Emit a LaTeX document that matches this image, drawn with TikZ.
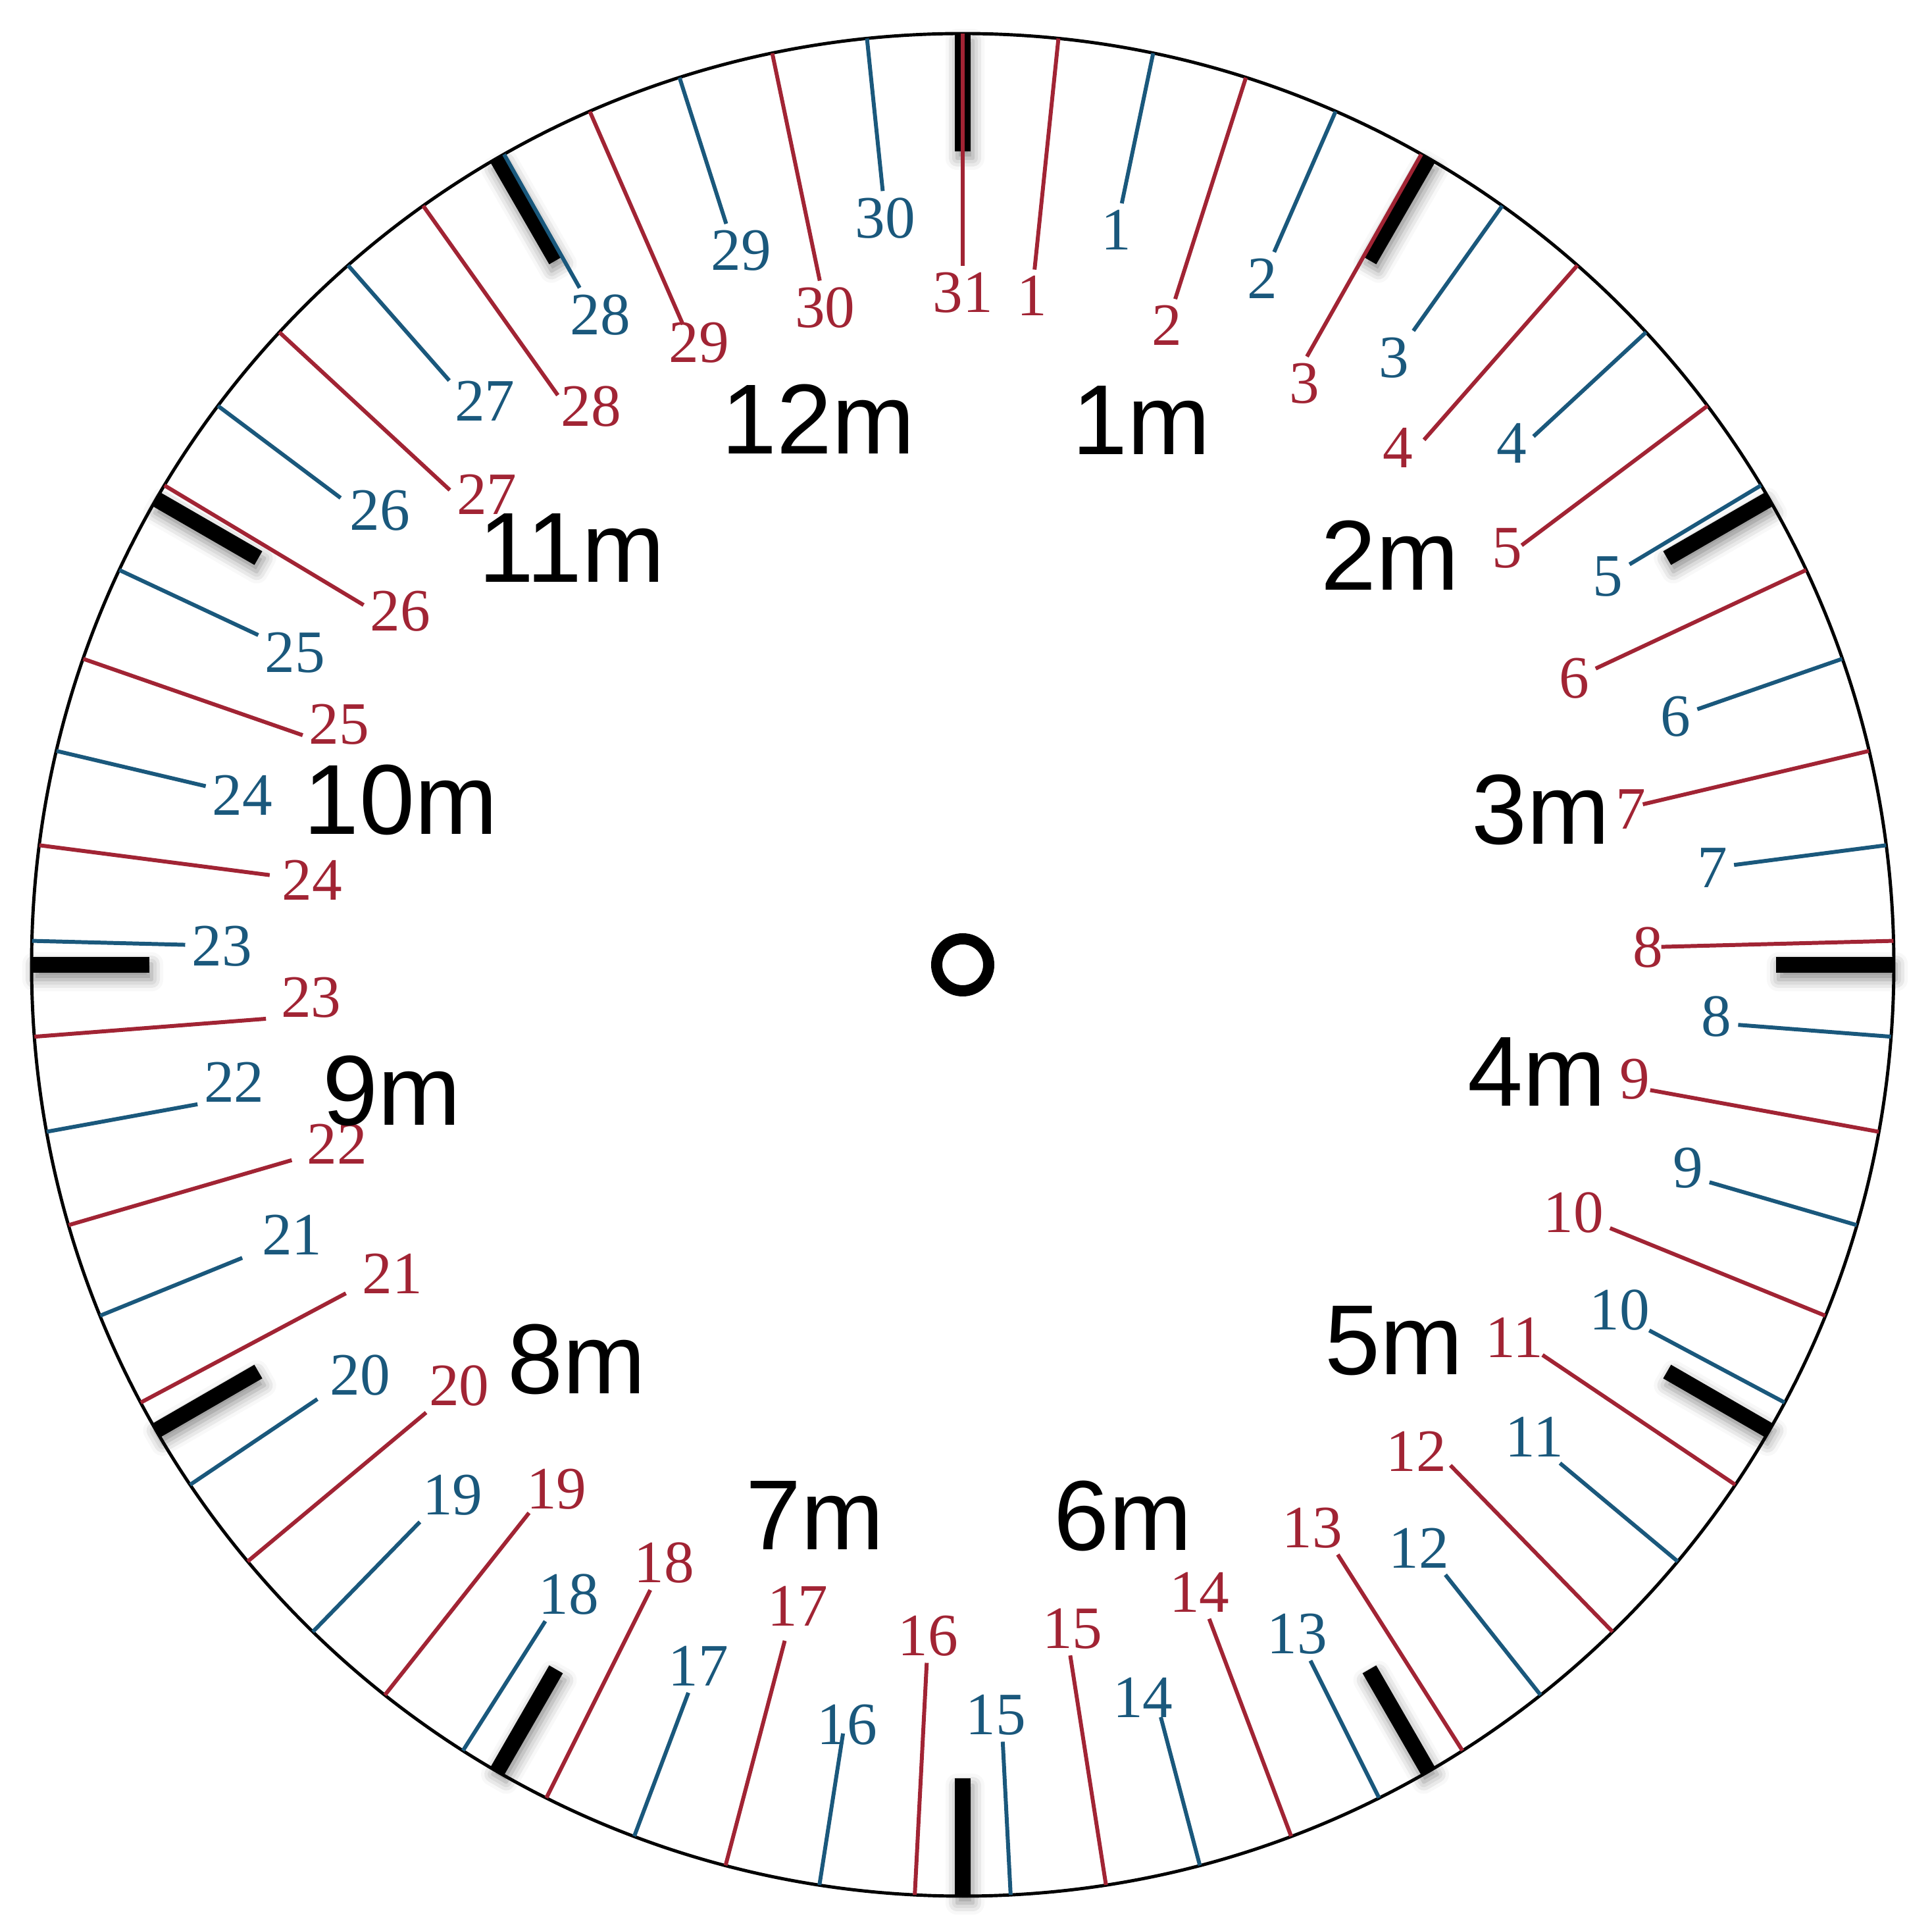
\documentclass[tikz,border=0pt]{standalone}
\usepackage{fontspec}
\setmainfont{Liberation Serif}
\newfontfamily\monthfont{Liberation Sans}
\usetikzlibrary{calc,shadows.blur}

\definecolor{dayred}{RGB}{161,36,52}
\definecolor{dayblue}{RGB}{26,88,124}

\begin{document}
\begin{tikzpicture}[
  rim/.style={line width=1.4pt},
  redday/.style={dayred, line width=1.7pt},
  blueday/.style={dayblue, line width=1.7pt},
  daylabel/.style={inner sep=2pt, font=\fontsize{26}{26}\selectfont},
  monthlabel/.style={inner sep=0pt, font=\monthfont\fontsize{43}{43}\selectfont},
  ticktip/.style={fill=black, blur shadow={shadow xshift=1pt, shadow yshift=-3pt, shadow blur radius=5pt, shadow opacity=45}}
]
  \useasboundingbox (-14.63,-14.68) rectangle (14.73,14.66);

  % centre of the dial and the rim
  \coordinate (O) at (0,0);
  \draw[rim] (O) circle (14.15);

  % thick black ticks, one every 30 degrees
  \foreach \a in {0,30,...,330} {
    \path[ticktip] ($(O)+(\a:12.36)+(\a+90:0.12)$) -- ($(O)+(\a:14.15)+(\a+90:0.12)$)
      -- ($(O)+(\a:14.15)+(\a-90:0.12)$) -- ($(O)+(\a:12.36)+(\a-90:0.12)$) -- cycle;
  }

  % red scale, days 1 to 31 (day / label nudge x / label nudge y)
  \foreach \d/\sx/\sy in {1/0/0, 2/0/0, 3/0.20/0, 4/-0.07/0.24, 5/0.11/0.19, 6/0/0,
      7/0.15/0, 8/0.13/0, 9/0.09/0.1, 10/0/0, 11/0.11/-0.1, 12/-0.13/-0.19, 13/-0.13/0,
      14/0/0, 15/0.09/0, 16/0/0, 17/0.09/0.12, 18/0/0, 19/0.09/-0.05, 20/0/0, 21/0.15/0,
      22/0.13/0.09, 23/0.13/0.28, 24/0.09/0, 25/0/0.37, 26/0/0.24, 27/0.13/0.34,
      28/0.22/0.24, 29/0.07/0.13, 30/0/0, 31/0/0} {
    \pgfmathsetmacro{\ang}{90-(\d-0.5)*360/30.5}
    \pgfmathsetmacro{\anc}{mod(\ang+720,360)}
    \draw[redday] (\ang:14.15) -- (\ang:10.62)
      node[daylabel, dayred, anchor=\anc, xshift=\sx cm, yshift=\sy cm] (r\d) {\d};
  }

  % blue scale, days 1 to 30
  \foreach \d/\sx/\sy in {1/0/0, 2/0/0, 3/0/0, 4/0/0.19, 5/0/0, 6/0/0, 7/0/0, 8/0/0.1,
      9/0/0.12, 10/0.11/0, 11/0.09/0, 12/-0.09/0, 13/0/0, 14/-0.17/-0.11, 15/-0.09/0,
      16/0/-0.28, 17/0/0, 18/0.09/0, 19/0.09/0, 20/0.09/0, 21/0.2/0.13, 22/0/0.24,
      23/0/0, 24/0/0, 25/0/0, 26/0.06/0.22, 27/0.19/0.09, 28/0.09/0, 29/0.1/0, 30/0/0} {
    \pgfmathsetmacro{\ang}{90-\d*360/30.5}
    \pgfmathsetmacro{\anc}{mod(\ang+720,360)}
    \draw[blueday] (\ang:14.15) -- (\ang:11.82)
      node[daylabel, dayblue, anchor=\anc, xshift=\sx cm, yshift=\sy cm] (b\d) {\d};
  }

  % month labels
  \node[monthlabel] (m12) at (-2.20,8.29) {12m};
  \node[monthlabel] (m1) at (2.71,8.27) {1m};
  \node[monthlabel] (m2) at (6.49,6.22) {2m};
  \node[monthlabel] (m3) at (8.78,2.36) {3m};
  \node[monthlabel] (m4) at (8.72,-1.63) {4m};
  \node[monthlabel] (m5) at (6.55,-5.71) {5m};
  \node[monthlabel] (m6) at (2.43,-8.37) {6m};
  \node[monthlabel] (m7) at (-2.25,-8.37) {7m};
  \node[monthlabel] (m8) at (-5.87,-5.99) {8m};
  \node[monthlabel] (m9) at (-8.68,-1.91) {9m};
  \node[monthlabel] (m10) at (-8.54,2.51) {10m};
  \node[monthlabel] (m11) at (-5.94,6.33) {11m};

  % pivot ring
  \draw[line width=0.17cm] (O) circle (0.395);

\end{tikzpicture}
\end{document}
